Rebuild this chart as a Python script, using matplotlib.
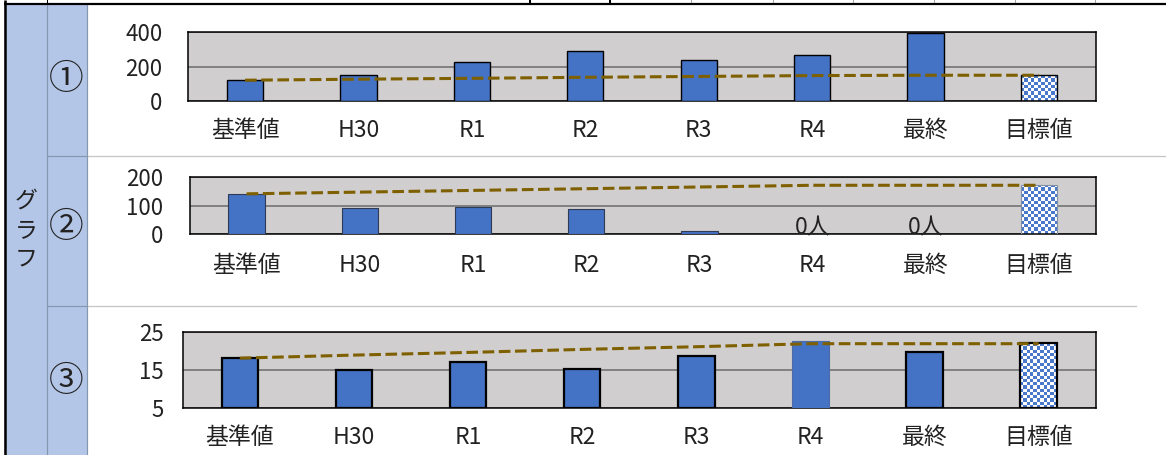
import numpy as np
import matplotlib
matplotlib.use("Agg")
import matplotlib.pyplot as plt
from matplotlib.patches import Rectangle
from matplotlib.colors import ListedColormap

plt.rcParams['font.family'] = ['Noto Sans CJK JP', 'DejaVu Sans']

# ---- data -------------------------------------------------------------
categories = ["基準値", "H30", "R1", "R2", "R3", "R4", "最終", "目標値"]

values_1 = [122, 153, 227, 293, 237, 268, 396, 150]
trend_1 = [121, 127, 132, 138, 143, 148, 150, 150]
yticks_1 = [0, 200, 400]

values_2 = [141, 91, 97, 89, 12, 0, 0, 172]
trend_2 = [142, 148, 154, 160, 166, 172, 172, 172]
yticks_2 = [0, 100, 200]
labels_2 = ["", "", "", "", "", "0人", "0人", ""]

values_3 = [18.2, 15.0, 17.1, 15.4, 18.8, 22.8, 19.9, 22.1]
trend_3 = [18.2, 19.0, 19.7, 20.5, 21.2, 22.0, 22.0, 22.0]
yticks_3 = [5, 15, 25]

row_marks = ["①", "②", "③"]
side_title = "グラフ"

# ---- figure -----------------------------------------------------------
W, H = 1166, 455
fig = plt.figure(figsize=(W / 100, H / 100), dpi=100)
fig.patch.set_facecolor("white")

# sheet background in pixel coordinates
bg = fig.add_axes([0, 0, 1, 1])
bg.set_xlim(0, W)
bg.set_ylim(H, 0)
bg.axis("off")
bg.set_zorder(0)

BLUE_CELL = "#B4C6E7"
CELL_LINE = "#8497B0"
GRID_LINE = "#C6C6C6"

bg.add_patch(Rectangle((6.5, 5), 40, H, fc=BLUE_CELL, ec="none"))
bg.add_patch(Rectangle((46.5, 5), 40, H, fc=BLUE_CELL, ec="none"))

px = 72 / 100  # points per pixel
bg.plot([46.5, 46.5], [5, H], color=CELL_LINE, lw=1.2 * px)
bg.plot([86.5, 86.5], [5, H], color=CELL_LINE, lw=1.2 * px)

# row separators
bg.plot([86.5, W], [155.5, 155.5], color=GRID_LINE, lw=1.3 * px)
bg.plot([46.5, 86.5], [155.5, 155.5], color=CELL_LINE, lw=1.2 * px)
bg.plot([86.5, 1136], [306, 306], color=GRID_LINE, lw=1.3 * px)
bg.plot([46.5, 86.5], [306, 306], color=CELL_LINE, lw=1.2 * px)

# header row edge
for xv in [46.5]:
    bg.plot([xv, xv], [0, 4], color="black", lw=1 * px)
for xv in [530, 610]:
    bg.plot([xv, xv], [0, 4], color="black", lw=2 * px)
for xv in [691, 773, 853, 934, 1015, 1095]:
    bg.plot([xv, xv], [0, 4], color="#A6A6A6", lw=1 * px)
bg.plot([4, W], [4.3, 4.3], color="black", lw=2.2 * px, solid_capstyle="butt")
bg.plot([5.3, 5.3], [0, H], color="black", lw=2.6 * px, solid_capstyle="butt")

for ch, yy in zip(side_title, [201, 231, 259]):
    bg.text(26, yy, ch, ha="center", va="center", fontsize=16.5, color="#222222")
for mark, yy in zip(row_marks, [80, 227, 382]):
    bg.text(66.5, yy, mark, ha="center", va="center", fontsize=25, color="#222222")


# ---- charts -----------------------------------------------------------
BAR_BLUE = "#4472C4"
checker_cmap = ListedColormap(["white", "#4A78CA"])


def checker_fill(ax, bar, cell_px=3.3):
    x0, y0 = bar.get_x(), bar.get_y()
    w, h = bar.get_width(), bar.get_height()
    (p0x, p0y), (p1x, p1y) = ax.transData.transform([(x0, y0), (x0 + w, y0 + h)])
    nx = max(1, int(round(abs(p1x - p0x) / cell_px)))
    ny = max(1, int(round(abs(p1y - p0y) / cell_px)))
    grid = np.indices((ny, nx)).sum(axis=0) % 2
    im = ax.imshow(grid, extent=(x0, x0 + w, y0, y0 + h), cmap=checker_cmap,
                   interpolation="nearest", aspect="auto", origin="lower", zorder=2.5)
    im.set_clip_path(bar)
    bar.set_facecolor("none")


def draw_chart(rect_px, values, trend, yticks, edgecolors, edgewidths,
               ypad, xpad, point_labels=None):
    left, top, right, bottom = rect_px
    ax = fig.add_axes([left / W, 1 - bottom / H, (right - left) / W, (bottom - top) / H])
    ax.set_zorder(1)
    ax.set_facecolor("#D0CECE")
    x = np.arange(len(categories))
    base = yticks[0]
    ylim = (yticks[0], yticks[-1])
    ax.set_xlim(-0.5, len(categories) - 0.5)
    ax.set_ylim(*ylim)

    heights = np.array(values, dtype=float) - base
    bars = ax.bar(x, heights, bottom=base, width=0.32, color=BAR_BLUE,
                  edgecolor=edgecolors, linewidth=edgewidths, zorder=3)
    checker_fill(ax, bars[-1])
    ax.set_xlim(-0.5, len(categories) - 0.5)
    ax.set_ylim(*ylim)

    ax.plot(x, trend, color="#7F6000", lw=2.2, linestyle=(0, (3.8, 1.5)),
            dash_capstyle="butt", zorder=4)

    ax.set_yticks(yticks)
    ax.set_xticks(x)
    ax.set_xticklabels(categories)
    ax.tick_params(axis="both", length=0, colors="#222222")
    ax.tick_params(axis="x", labelsize=16.5, pad=xpad)
    ax.tick_params(axis="y", labelsize=16, pad=ypad)
    ax.set_axisbelow(True)
    ax.grid(axis="y", color="#808080", lw=1.4)
    for s in ax.spines.values():
        s.set_color("black")
        s.set_linewidth(1.1)

    if point_labels:
        for xi, lab in zip(x, point_labels):
            if lab:
                ax.annotate(lab, xy=(xi, base), xytext=(0, 4.5), textcoords="offset points",
                            ha="center", va="center", fontsize=16.5, color="#222222",
                            annotation_clip=False, zorder=5)
    return ax


n = len(categories)
draw_chart((188.3, 32.3, 1095.7, 101.0), values_1, trend_1, yticks_1,
           ["black"] * n, [1.0] * n, ypad=18.5, xpad=13)
draw_chart((190.0, 177.3, 1095.7, 234.3), values_2, trend_2, yticks_2,
           ["#2E3B55"] * (n - 1) + ["#8090A8"], [0.8] * n, ypad=19, xpad=14,
           point_labels=labels_2)
draw_chart((182.7, 332.3, 1095.7, 408.3), values_3, trend_3, yticks_3,
           ["black"] * 5 + ["#4A6AA8"] + ["black"] * 2, [1.6] * 5 + [0.8] + [1.6] * 2,
           ypad=14, xpad=13)

fig.savefig("out.png", dpi=100, facecolor="white")
